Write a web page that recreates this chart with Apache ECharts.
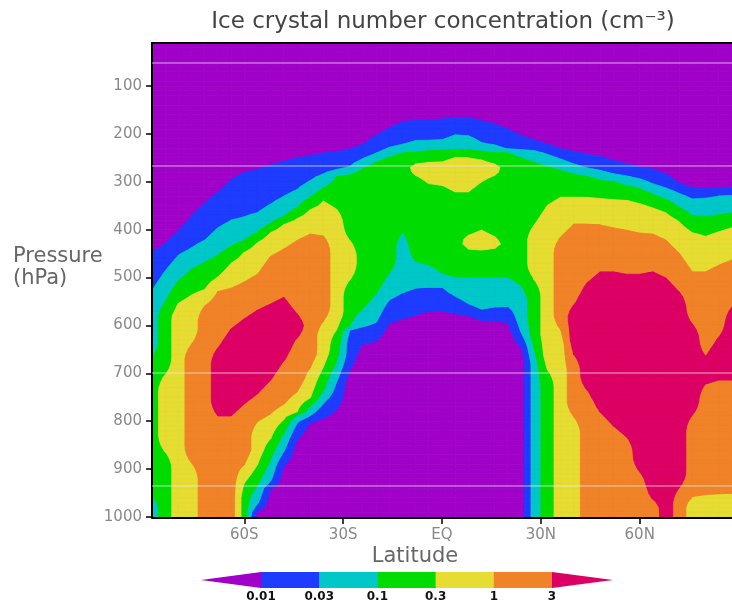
<!DOCTYPE html>
<html>
<head>
<meta charset="utf-8">
<script src="https://cdn.jsdelivr.net/npm/echarts@6/dist/echarts.min.js"></script>
<style>
  html, body { margin: 0; padding: 0; background: #ffffff; }
  #chart { width: 732px; height: 608px; }
</style>
</head>
<body>
<div id="chart"></div>
<script>
// Latitudes of the sampled profiles (degrees, south negative)
const latitudes = [-88, -84, -80, -76, -72, -68, -64, -60, -56, -52, -48, -44, -40, -36, -32,
  -28, -24, -20, -16, -12, -8, -4, 0, 4, 8, 12, 16, 20, 24, 28, 32, 36, 40, 44, 48, 52, 56,
  60, 64, 68, 72, 76, 80, 84, 88];

// Vertical profile at each latitude, from the top (10 hPa) downwards:
// [concentration class, pressure (hPa) where that class ends].
// Classes: 0 <0.01, 1 0.01-0.03, 2 0.03-0.1, 3 0.1-0.3, 4 0.3-1, 5 1-3, 6 >3 cm^-3
const columnSegments = [
  [[0,447],[1,526],[2,666],[3,958],[2,1000]],
  [[0,430],[1,486],[2,551],[3,703],[4,864],[3,1000]],
  [[0,403],[1,453],[2,507],[3,553],[4,1000]],
  [[0,371],[1,438],[2,482],[3,536],[4,639],[5,887],[4,1000]],
  [[0,344],[1,422],[2,468],[3,526],[4,559],[5,1000]],
  [[0,321],[1,396],[2,453],[3,499],[4,528],[5,647],[6,789],[5,1000]],
  [[0,296],[1,380],[2,436],[3,470],[4,522],[5,607],[6,789],[5,1000]],
  [[0,280],[1,373],[2,424],[3,445],[4,509],[5,586],[6,764],[5,891],[4,929],[3,1000]],
  [[0,274],[1,365],[2,407],[3,424],[4,493],[5,568],[6,743],[5,801],[4,891],[3,934],[2,975],[1,989],[0,1000]],
  [[0,265],[1,347],[2,388],[3,403],[4,455],[5,555],[6,714],[5,785],[4,837],[3,879],[2,927],[1,941],[0,1000]],
  [[0,257],[1,330],[2,375],[3,388],[4,440],[5,541],[6,674],[5,766],[4,797],[3,824],[2,864],[1,893],[0,1000]],
  [[0,250],[1,317],[2,355],[3,375],[4,422],[5,576],[6,626],[5,739],[4,781],[3,787],[2,803],[1,839],[0,1000]],
  [[0,246],[1,298],[2,332],[3,357],[4,409],[5,689],[4,753],[3,768],[2,789],[1,801],[0,1000]],
  [[0,240],[1,284],[2,313],[3,340],[4,413],[5,591],[4,687],[3,737],[2,762],[1,793],[0,1000]],
  [[0,238],[1,277],[2,288],[3,357],[4,609],[3,676],[2,718],[1,776],[0,1000]],
  [[0,232],[1,269],[2,282],[3,422],[4,505],[3,601],[2,609],[1,693],[0,1000]],
  [[0,223],[1,252],[2,271],[3,565],[2,603],[1,639],[0,1000]],
  [[0,204],[1,240],[2,257],[3,534],[2,595],[1,632],[0,1000]],
  [[0,188],[1,229],[2,246],[3,491],[2,547],[1,595],[0,1000]],
  [[0,175],[1,223],[2,240],[3,405],[2,532],[1,586],[0,1000]],
  [[0,171],[1,215],[2,238],[3,263],[4,284],[3,466],[2,522],[1,578],[0,1000]],
  [[0,171],[1,215],[2,234],[3,259],[4,303],[3,474],[2,520],[1,570],[0,1000]],
  [[0,169],[1,213],[2,234],[3,257],[4,307],[3,491],[2,520],[1,570],[0,1000]],
  [[0,167],[1,202],[2,234],[3,248],[4,321],[3,499],[2,539],[1,574],[0,1000]],
  [[0,167],[1,204],[2,234],[3,250],[4,321],[3,413],[4,440],[3,499],[2,557],[1,580],[0,1000]],
  [[0,173],[1,219],[2,236],[3,252],[4,300],[3,401],[4,442],[3,499],[2,568],[1,589],[0,1000]],
  [[0,179],[1,226],[2,238],[3,263],[4,284],[3,417],[4,438],[3,499],[2,563],[1,589],[0,1000]],
  [[0,190],[1,234],[2,240],[3,499],[2,561],[1,593],[0,1000]],
  [[0,204],[1,234],[2,250],[3,516],[2,616],[1,643],[0,1000]],
  [[0,215],[1,234],[2,259],[3,390],[4,505],[3,651],[2,1000]],
  [[0,223],[1,242],[2,267],[3,349],[4,693],[3,1000]],
  [[0,232],[1,252],[2,274],[3,332],[4,415],[5,609],[4,1000]],
  [[0,238],[1,263],[2,282],[3,332],[4,388],[5,557],[6,661],[5,791],[4,1000]],
  [[0,244],[1,271],[2,288],[3,332],[4,388],[5,511],[6,735],[5,1000]],
  [[0,248],[1,277],[2,294],[3,334],[4,390],[5,488],[6,781],[5,1000]],
  [[0,257],[1,284],[2,300],[3,336],[4,396],[5,488],[6,810],[5,1000]],
  [[0,263],[1,288],[2,307],[3,338],[4,401],[5,493],[6,833],[5,1000]],
  [[0,269],[1,294],[2,313],[3,344],[4,407],[5,493],[6,906],[5,1000]],
  [[0,275],[1,305],[2,325],[3,353],[4,409],[5,488],[6,964],[5,1000]],
  [[0,286],[1,313],[2,336],[3,363],[4,422],[5,501],[6,1000]],
  [[0,305],[1,323],[2,353],[3,382],[4,449],[5,530],[6,939],[5,1000]],
  [[0,315],[1,334],[2,371],[3,405],[4,488],[5,597],[6,787],[5,958],[4,1000]],
  [[0,317],[1,332],[2,373],[3,413],[4,488],[5,664],[6,722],[5,954],[4,1000]],
  [[0,315],[1,330],[2,369],[3,403],[4,474],[5,624],[6,714],[5,952],[4,1000]],
  [[0,313],[1,327],[2,365],[3,394],[4,463],[5,561],[6,714],[5,950],[4,1000]]
];

// Colour-bar class boundaries (cm^-3)
const classBounds = ['0.01', '0.03', '0.1', '0.3', '1', '3'];
const classColors = ['#a000c8', '#1e3cff', '#00c8c8', '#00dc00', '#e6dc32', '#f08228', '#dc0064'];

// Axis ticks
const latitudeTicks = [-60, -30, 0, 30, 60];
const pressureTicks = [100, 200, 300, 400, 500, 600, 700, 800, 900, 1000];

// Thin horizontal reference lines (hPa)
const guidePressures = [52, 267, 699, 935];

const P_TOP = 10, P_BOTTOM = 1000, P_STEP = 10;
const SETTLE = 30; // hPa over which a profile moves from a class edge to the class middle

// Piecewise-linear profile: class edges sit exactly on contour thresholds
function buildKnots(segments) {
  const knots = [];
  let top = P_TOP;
  segments.forEach(function (seg, s) {
    const k = seg[0], bot = seg[1];
    const d = Math.min(SETTLE, (bot - top) / 2);
    if (s === 0) {
      knots.push([top, k + 0.5]);
    } else {
      const prev = segments[s - 1][0];
      knots.push([top, (prev + k + 1) / 2]);
      knots.push([top + d, k + 0.5]);
    }
    knots.push(s === segments.length - 1 ? [bot, k + 0.5] : [bot - d, k + 0.5]);
    top = bot;
  });
  return knots;
}

function profileAt(knots, p) {
  if (p <= knots[0][0]) return knots[0][1];
  for (let m = 0; m < knots.length - 1; m++) {
    const a = knots[m], b = knots[m + 1];
    if (p <= b[0]) {
      if (b[0] === a[0]) return b[1];
      return a[1] + (b[1] - a[1]) * (p - a[0]) / (b[0] - a[0]);
    }
  }
  return knots[knots.length - 1][1];
}

const rowPressures = [];
for (let p = P_TOP; p <= P_BOTTOM; p += P_STEP) rowPressures.push(p);

const fieldValues = columnSegments.map(function (segments) {
  const knots = buildKnots(segments);
  return rowPressures.map(function (p) { return profileAt(knots, p); });
});

// One item per grid cell: [lat, p, column index, row index, max value]
const cells = [];
for (let i = 0; i < latitudes.length - 1; i++) {
  for (let j = 0; j < rowPressures.length - 1; j++) {
    const mx = Math.max(fieldValues[i][j], fieldValues[i + 1][j], fieldValues[i][j + 1], fieldValues[i + 1][j + 1]);
    cells.push([latitudes[i], rowPressures[j], i, j, mx]);
  }
}

// Part of a cell where the value reaches the threshold
function clipQuad(pts, threshold) {
  const out = [];
  for (let k = 0; k < pts.length; k++) {
    const a = pts[k], b = pts[(k + 1) % pts.length];
    const ina = a.v >= threshold, inb = b.v >= threshold;
    if (ina) out.push(a.p);
    if (ina !== inb) {
      const f = (threshold - a.v) / (b.v - a.v);
      out.push([a.p[0] + f * (b.p[0] - a.p[0]), a.p[1] + f * (b.p[1] - a.p[1])]);
    }
  }
  return out;
}

function levelRenderer(level) {
  const style = { fill: classColors[level], stroke: classColors[level], lineWidth: 0.8 };
  return function (params, api) {
    const i = api.value(2), j = api.value(3);
    const corners = [[i, j], [i + 1, j], [i + 1, j + 1], [i, j + 1]];
    const pts = corners.map(function (c) {
      return {
        p: api.coord([latitudes[c[0]], rowPressures[c[1]]]),
        v: fieldValues[c[0]][c[1]]
      };
    });
    const poly = clipQuad(pts, level);
    if (poly.length < 3) return { type: 'group', children: [] };
    return { type: 'polygon', silent: true, shape: { points: poly }, style: style };
  };
}

const series = classColors.map(function (color, level) {
  return {
    type: 'custom',
    name: 'class' + level,
    coordinateSystem: 'cartesian2d',
    data: cells.filter(function (c) { return c[4] >= level; }),
    encode: { x: 0, y: 1 },
    renderItem: levelRenderer(level),
    animation: false,
    silent: true,
    z: 2 + level
  };
});

// Light horizontal lines drawn over the shading
series.push({
  type: 'custom',
  name: 'guides',
  coordinateSystem: 'cartesian2d',
  data: guidePressures.map(function (p) { return [0, p]; }),
  encode: { x: 0, y: 1 },
  animation: false,
  silent: true,
  z: 15,
  renderItem: function (params, api) {
    const p = api.value(1);
    const a = api.coord([latitudes[0], p]);
    const b = api.coord([latitudes[latitudes.length - 1], p]);
    return {
      type: 'line',
      silent: true,
      shape: { x1: a[0], y1: a[1], x2: b[0], y2: b[1] },
      style: { stroke: 'rgba(235,235,235,0.5)', lineWidth: 1.5 }
    };
  }
});

function latitudeLabel(v) {
  if (v === 0) return 'EQ';
  return v < 0 ? (-v) + 'S' : v + 'N';
}

// Colour bar
const cbLeft = 261, cbStep = 58.2, cbTop = 572, cbH = 16, tipLen = 60;
const colorBar = [];
colorBar.push({
  type: 'polygon',
  shape: { points: [[cbLeft - tipLen, cbTop + cbH / 2], [cbLeft, cbTop], [cbLeft, cbTop + cbH]] },
  style: { fill: classColors[0] }
});
for (let k = 1; k < classColors.length - 1; k++) {
  colorBar.push({
    type: 'rect',
    shape: { x: cbLeft + (k - 1) * cbStep, y: cbTop, width: cbStep + 0.5, height: cbH },
    style: { fill: classColors[k] }
  });
}
const cbRight = cbLeft + (classColors.length - 2) * cbStep;
colorBar.push({
  type: 'polygon',
  shape: { points: [[cbRight, cbTop], [cbRight + tipLen + 1, cbTop + cbH / 2], [cbRight, cbTop + cbH]] },
  style: { fill: classColors[classColors.length - 1] }
});
classBounds.forEach(function (t, k) {
  colorBar.push({
    type: 'text',
    style: {
      text: t, x: cbLeft + k * cbStep, y: 597,
      textAlign: 'center', textVerticalAlign: 'middle',
      fontFamily: 'DejaVu Sans', fontSize: 12, fontWeight: 'bold', fill: '#111'
    }
  });
});

const chart = echarts.init(document.getElementById('chart'), null, { renderer: 'canvas' });
chart.setOption({
  animation: false,
  backgroundColor: '#ffffff',
  grid: { left: 152, top: 43, width: 584, height: 474, containLabel: false },
  xAxis: [{
    type: 'value', min: -88, max: 88, position: 'bottom', offset: 1, z: 10,
    axisLine: { show: true, onZero: false, lineStyle: { color: '#000', width: 2 } },
    axisTick: { show: true, customValues: latitudeTicks, length: 6, lineStyle: { color: '#000', width: 1.5 } },
    axisLabel: {
      customValues: latitudeTicks, formatter: latitudeLabel, margin: 10,
      color: '#888', fontFamily: 'DejaVu Sans', fontSize: 15
    },
    splitLine: { show: false }
  }, {
    type: 'value', min: -88, max: 88, position: 'top', z: 10,
    axisLine: { show: true, onZero: false, lineStyle: { color: '#000', width: 2 } },
    axisTick: { show: false }, axisLabel: { show: false }, splitLine: { show: false }
  }],
  yAxis: {
    type: 'value', min: P_TOP, max: P_BOTTOM, inverse: true, z: 10,
    axisLine: { show: true, onZero: false, lineStyle: { color: '#000', width: 2 } },
    axisTick: { show: true, customValues: pressureTicks, length: 6, lineStyle: { color: '#000', width: 1.5 } },
    axisLabel: {
      customValues: pressureTicks, margin: 10,
      formatter: function (v) { return String(v); },
      color: '#888', fontFamily: 'DejaVu Sans', fontSize: 15
    },
    splitLine: { show: false }
  },
  series: series,
  graphic: [
    {
      type: 'text', z: 20,
      style: {
        text: 'Ice crystal number concentration (cm\u207B\u00B3)', x: 443, y: 22,
        textAlign: 'center', textVerticalAlign: 'middle',
        fontFamily: 'DejaVu Sans', fontSize: 23, fill: '#444'
      }
    },
    {
      type: 'text', z: 20,
      style: {
        text: 'Pressure\n(hPa)', x: 13, y: 246, lineHeight: 22,
        textAlign: 'left', textVerticalAlign: 'top',
        fontFamily: 'DejaVu Sans', fontSize: 21, fill: '#666'
      }
    },
    {
      type: 'text', z: 20,
      style: {
        text: 'Latitude', x: 415, y: 557,
        textAlign: 'center', textVerticalAlign: 'middle',
        fontFamily: 'DejaVu Sans', fontSize: 21, fill: '#666'
      }
    },
    { type: 'group', z: 20, children: colorBar }
  ]
});
</script>
</body>
</html>
